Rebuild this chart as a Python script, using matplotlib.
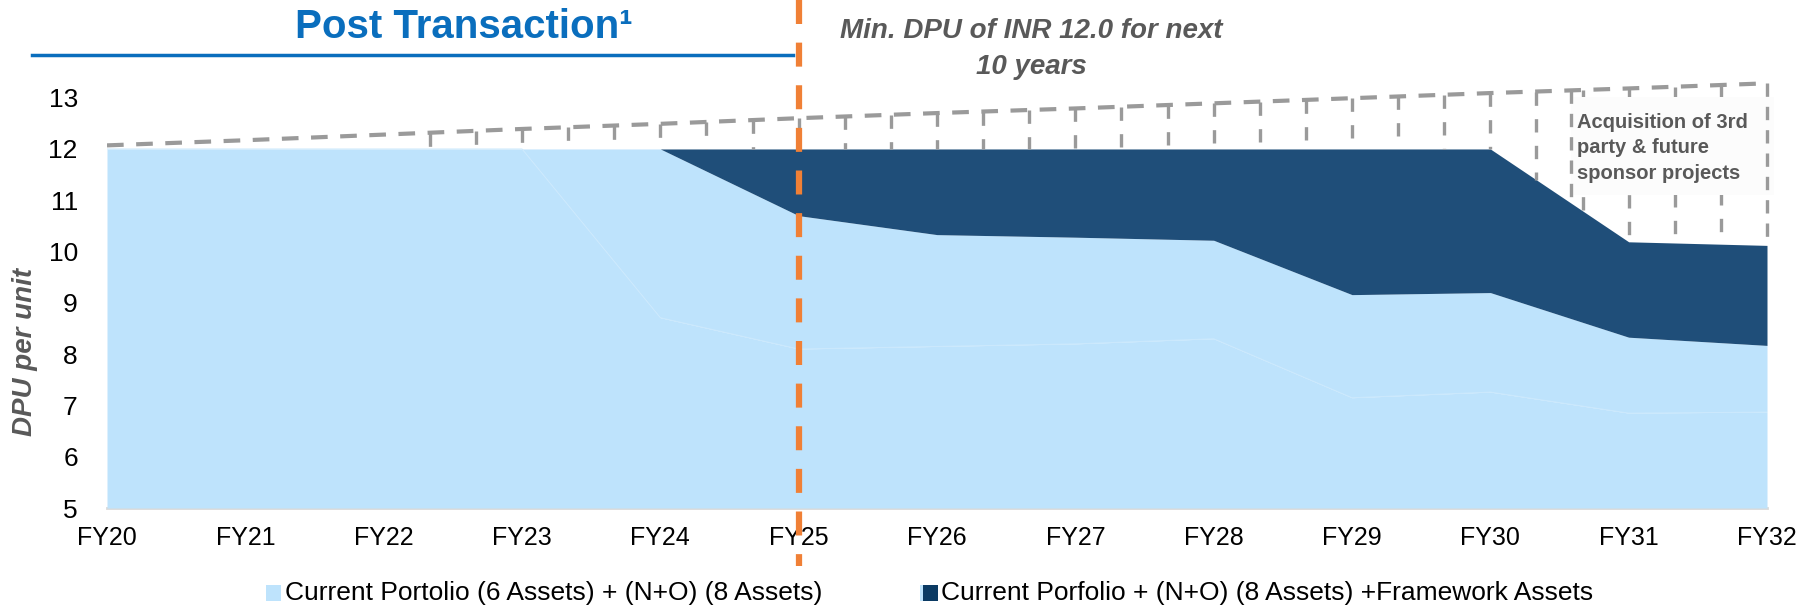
import numpy as np
import matplotlib
matplotlib.use("Agg")
import matplotlib.pyplot as plt
from matplotlib.patches import Rectangle
from matplotlib.lines import Line2D

plt.rcParams['font.family'] = ['Liberation Sans', 'DejaVu Sans']

# ---------------- data ----------------
years = ["FY20", "FY21", "FY22", "FY23", "FY24", "FY25", "FY26",
         "FY27", "FY28", "FY29", "FY30", "FY31", "FY32"]
# cumulative DPU levels
current_6 = [12.0, 12.0, 12.0, 12.0, 8.71, 8.10, 8.15, 8.20, 8.30, 7.15, 7.26, 6.85, 6.87]
current_no = [12.0, 12.0, 12.0, 12.0, 12.0, 10.70, 10.33, 10.28, 10.22, 9.16, 9.20, 8.33, 8.17]
framework = [12.0, 12.0, 12.0, 12.0, 12.0, 12.0, 12.0, 12.0, 12.0, 12.0, 12.0, 10.19, 10.12]
target_top = [12.07, 12.17, 12.28, 12.39, 12.49, 12.60, 12.70, 12.79, 12.89, 12.99, 13.09, 13.18, 13.28]
yticks = [5, 6, 7, 8, 9, 10, 11, 12, 13]

legend_labels = ["Current Portolio (6 Assets) + (N+O) (8 Assets)",
                 "Current Porfolio + (N+O) (8 Assets) +Framework Assets"]

LIGHT = "#BEE3FC"
DARK = "#1F4E79"
GRAY = "#9A9A9A"
TXT = "#595959"
BLUE = "#0A6EBD"
ORANGE = "#F08036"

W, H = 1811, 609
fig = plt.figure(figsize=(W / 100, H / 100), dpi=100)
ax_left, ax_right, ax_bot, ax_top = 107, 1767, 508, 66.9
ax = fig.add_axes([ax_left / W, 1 - ax_bot / H, (ax_right - ax_left) / W, (ax_bot - ax_top) / H])

x = np.arange(len(years))
ax.fill_between(x, 5, current_6, color=LIGHT, lw=0, zorder=1)
ax.fill_between(x, current_6, current_no, color=LIGHT, lw=0, zorder=1)
ax.fill_between(x, current_no, framework, color=DARK, lw=0, zorder=1)
ax.plot(x, current_6, color="#CCE9FC", lw=0.7, zorder=1.5)

# dashed ceiling (future acquisitions)
ax.plot(x, target_top, color=GRAY, lw=3, ls=(0, (4, 3)), zorder=4)
xs = np.arange(1, 36) / 3.0
ceil = np.interp(xs, x, target_top)
floor = np.interp(xs, x, framework)
for xi, lo, hi in zip(xs, floor, ceil):
    if hi - lo > 0.28:
        ax.plot([xi, xi], [hi, lo], color=GRAY, lw=2.4, ls=(0, (4, 4)), zorder=2)

# annotation box
bx0, bx1, by0, by1 = 10.58, 12.05, 11.10, 13.01
ax.add_patch(Rectangle((bx0, by0), bx1 - bx0, by1 - by0, facecolor="#FCFCFC",
                       edgecolor="none", zorder=3, clip_on=False))
for xe in (bx0, 12.0):
    hi = np.interp(xe, x, target_top)
    lo = np.interp(xe, x, framework)
    ax.plot([xe, xe], [hi, lo], color=GRAY, lw=2.4, ls=(0, (4, 3)), zorder=4, clip_on=False)
ax.text(10.63, 12.02, "Acquisition of 3rd\nparty & future\nsponsor projects",
        ha="left", va="center", fontsize=14.5, fontweight="bold", color=TXT,
        linespacing=1.45, zorder=5)

ax.set_xlim(0, 12)
ax.set_ylim(5, 13.6)
ax.set_yticks(yticks)
ax.set_xticks(x, years)
for s in ("top", "right", "left"):
    ax.spines[s].set_visible(False)
ax.spines["bottom"].set_color("#D9D9D9")
ax.spines["bottom"].set_linewidth(2)
ax.spines["bottom"].set_zorder(0.5)
ax.tick_params(axis="y", length=0, pad=21, labelsize=19, labelcolor="#000000")
ax.tick_params(axis="x", length=0, pad=13, labelsize=18, labelcolor="#000000")
ax.set_facecolor("none")

# y label
fig.text(25 / W, 1 - 352 / H, "DPU per unit", rotation=90, ha="center", va="center",
         fontsize=20, fontweight="bold", fontstyle="italic", color=TXT)

# title + underline
fig.text(464 / W, 1 - 38 / H, "Post Transaction¹", ha="center", va="baseline",
         fontsize=29, fontweight="bold", color=BLUE)
fig.add_artist(Line2D([32 / W, 793 / W], [1 - 55 / H, 1 - 55 / H], transform=fig.transFigure,
                      color=BLUE, lw=2.5, zorder=9))

# min DPU note
fig.text(1031 / W, 1 - 49 / H, "Min. DPU of INR 12.0 for next\n10 years", ha="center",
         va="center", multialignment="center", fontsize=20, fontweight="bold",
         fontstyle="italic", color=TXT, linespacing=1.45)

# orange transaction marker at FY25
xf = (ax_left + 5 * (ax_right - ax_left) / 12) / W
fig.add_artist(Line2D([xf, xf], [1.0, 1 - 566 / H], transform=fig.transFigure,
                      color=ORANGE, lw=4.5, ls=(0, (3.84, 2.98)), zorder=10))

# legend (manual)
ly = 1 - 593 / H
fig.add_artist(Rectangle((266 / W, 1 - 601 / H), 15 / W, 16 / H, transform=fig.transFigure,
                         facecolor=LIGHT, edgecolor="none"))
fig.text(285 / W, ly, legend_labels[0], ha="left", va="center", fontsize=19, color="#000000")
fig.add_artist(Rectangle((920 / W, 1 - 601 / H), 3 / W, 16 / H, transform=fig.transFigure,
                         facecolor=LIGHT, edgecolor="none"))
fig.add_artist(Rectangle((923 / W, 1 - 601 / H), 15 / W, 16 / H, transform=fig.transFigure,
                         facecolor="#0B3A63", edgecolor="none"))
fig.text(941 / W, ly, legend_labels[1], ha="left", va="center", fontsize=19, color="#000000")

fig.savefig("out.png", dpi=100)
